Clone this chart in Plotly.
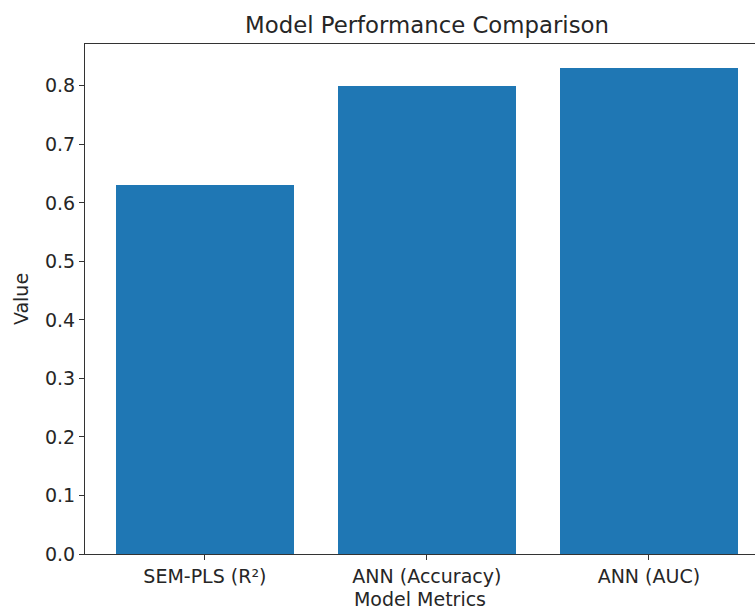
import plotly.graph_objects as go

categories = ["SEM-PLS (R²)", "ANN (Accuracy)", "ANN (AUC)"]
values = [0.63, 0.80, 0.83]
y_ticks = [0.0, 0.1, 0.2, 0.3, 0.4, 0.5, 0.6, 0.7, 0.8]

font = "DejaVu Sans, sans-serif"
W, H = 755, 610

fig = go.Figure(go.Bar(
    x=list(range(len(categories))),
    y=values,
    width=0.8,
    marker=dict(color="#1f77b4", line=dict(width=0)),
))

fig.update_layout(
    width=W, height=H,
    margin=dict(l=85, r=0, t=44, b=56, autoexpand=False),
    paper_bgcolor="white", plot_bgcolor="white",
    font=dict(family=font, size=19, color="#262626"),
    title=dict(text="Model Performance Comparison", x=427 / W, xref="container", xanchor="center",
               y=1 - 25 / H, yref="container", yanchor="middle",
               font=dict(size=22.8, color="#262626", family=font)),
    showlegend=False,
    bargap=0,
)
fig.update_xaxes(
    range=[-0.54, -0.54 + 670 / 222],
    tickmode="array", tickvals=list(range(len(categories))), ticktext=categories,
    ticks="outside", ticklen=5, tickcolor="#333", tickwidth=1,
    showline=True, linecolor="#333", linewidth=1, mirror=True,
    showgrid=False, zeroline=False,
    title=dict(text="Model Metrics", standoff=13, font=dict(size=19)),
    automargin=False,
)
fig.update_yaxes(
    range=[0, 0.8715],
    tickmode="array", tickvals=y_ticks, ticktext=[f"{v:.1f}" for v in y_ticks],
    ticks="outside", ticklen=5, tickcolor="#333", tickwidth=1,
    showline=True, linecolor="#333", linewidth=1, mirror=False,
    showgrid=False, zeroline=False,
    title=dict(text="Value", standoff=11, font=dict(size=19)),
)

fig.write_html(
    "out.html",
    config={"displayModeBar": False},
    post_script="document.body.style.margin='0';document.body.style.overflow='hidden';",
)
